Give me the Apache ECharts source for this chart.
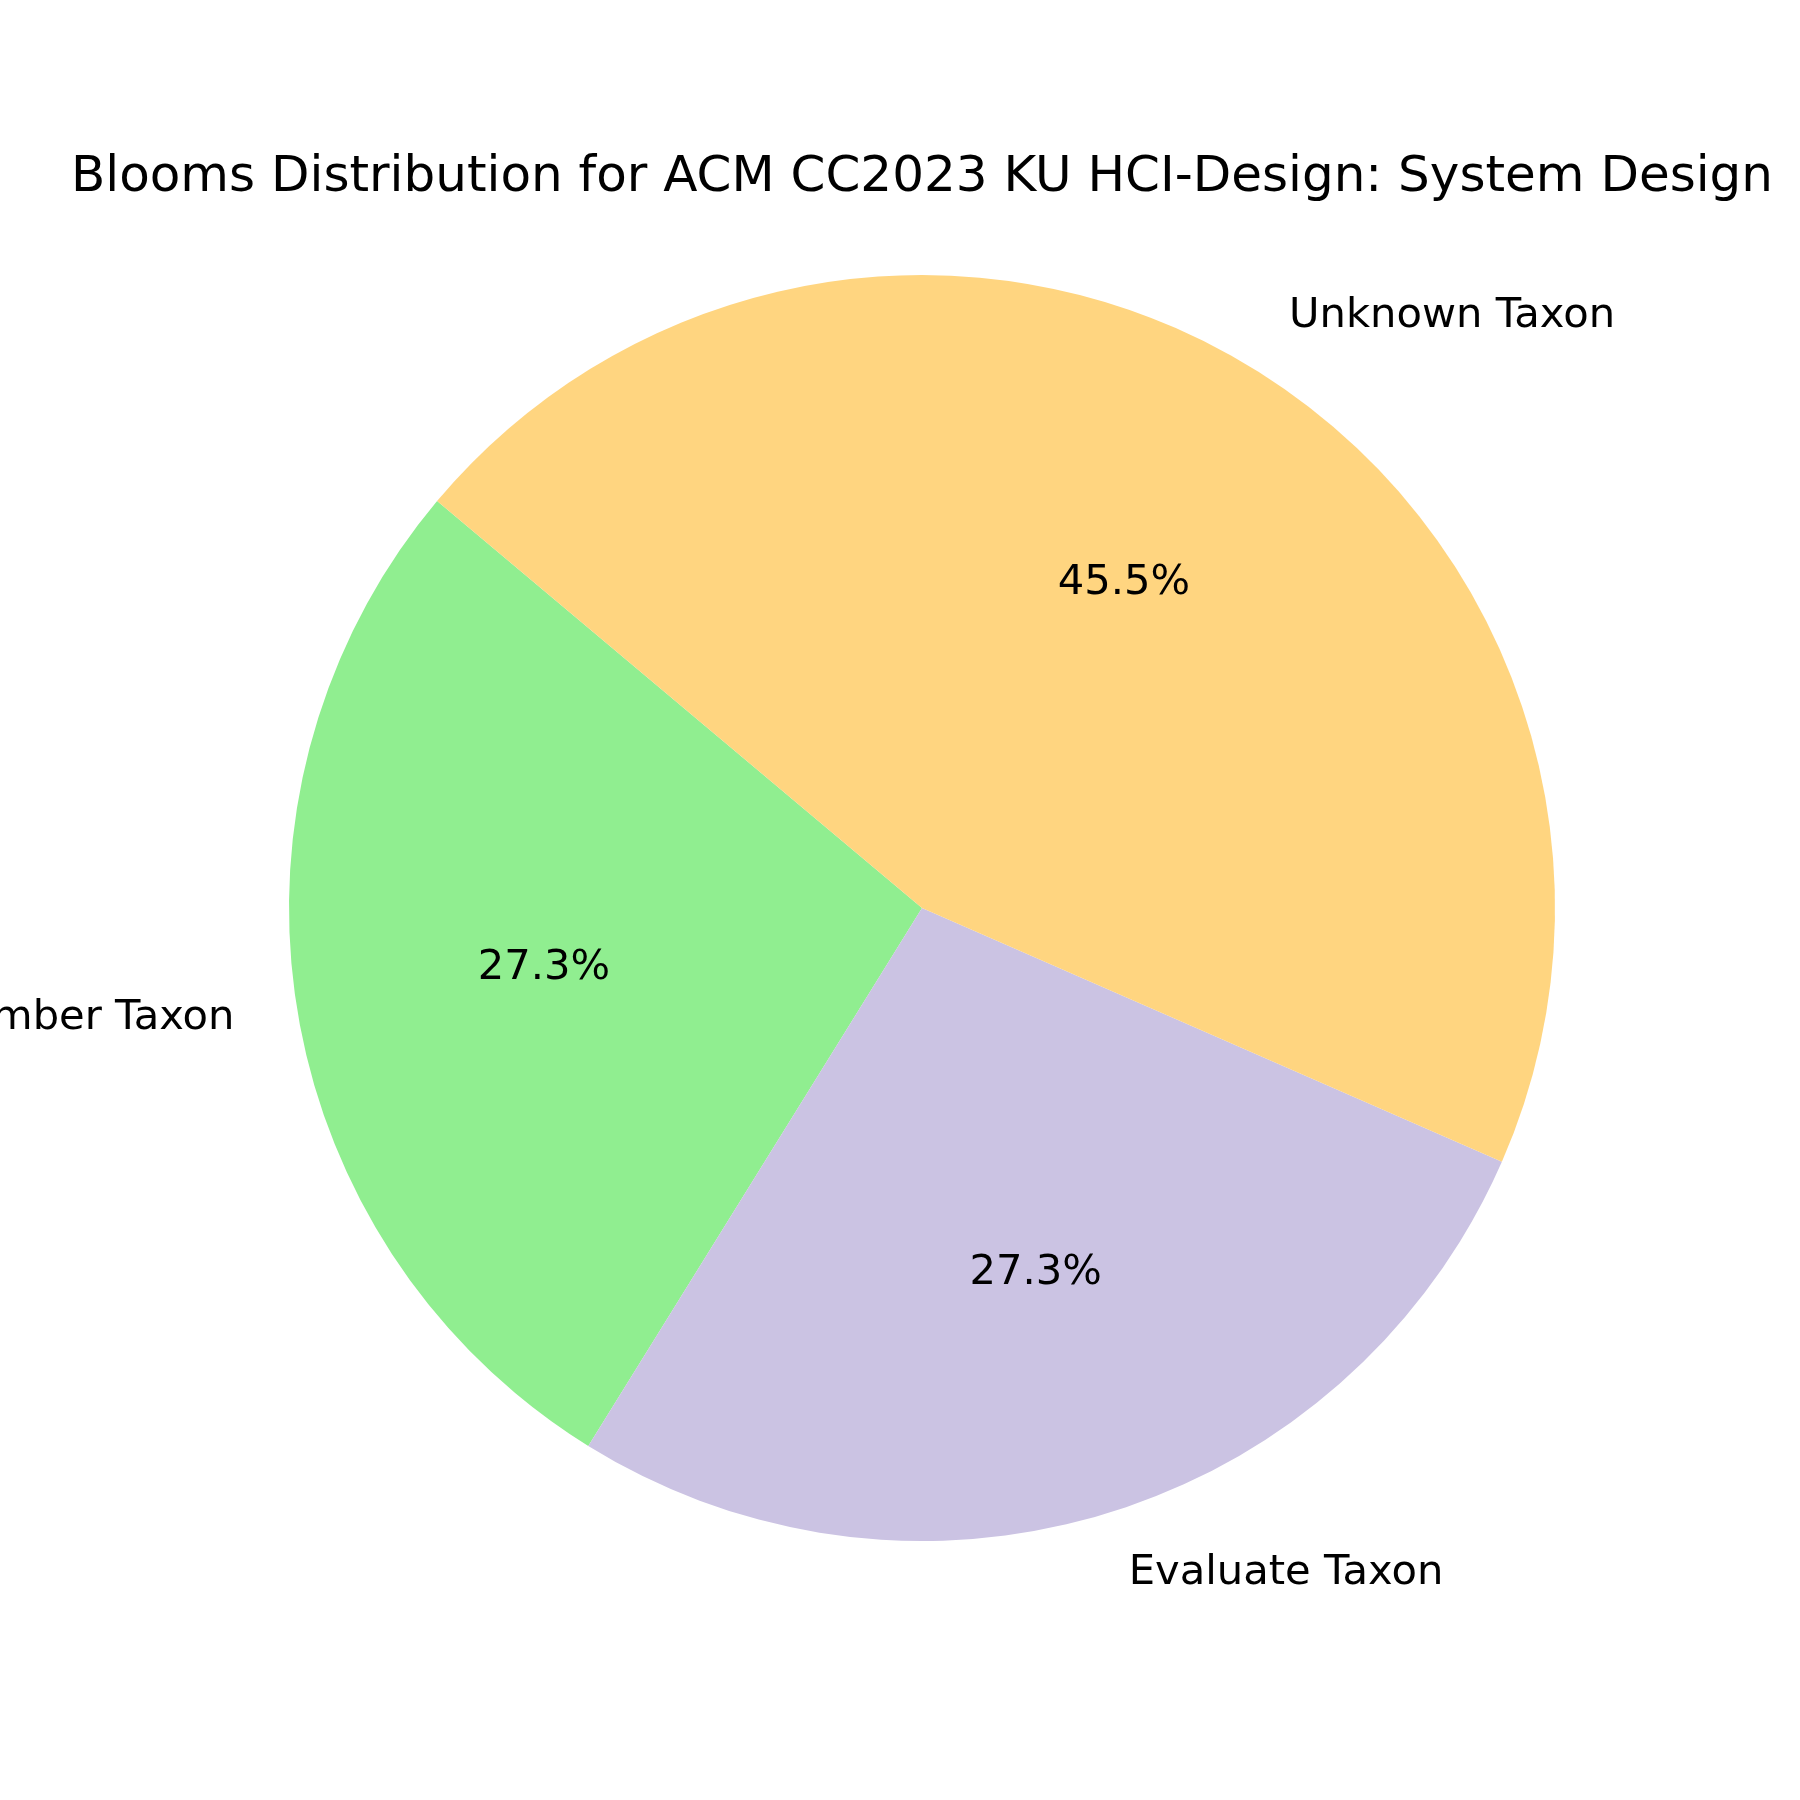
<!DOCTYPE html>
<html>
<head>
<meta charset="utf-8">
<script src="https://cdn.jsdelivr.net/npm/echarts@6/dist/echarts.min.js"></script>
<style>
  html, body { margin: 0; padding: 0; background: #fff; }
  #main { width: 1800px; height: 1800px; }
</style>
</head>
<body>
<div id="main"></div>
<script>
	// wedges in drawing order (counter-clockwise from 140 deg)
	var categories = [ 'Remember Taxon', 'Evaluate Taxon', 'Unknown Taxon' ];
	var counts = [ 3, 3, 5 ];
	var colors = [ '#90EE90', '#CBC3E3', '#FFD580' ];

	var total = counts.reduce(function(a, b) { return a + b; }, 0);
	var cx = 922, cy = 908, R = 633;
	var font = 'DejaVu Sans';

	var pieData = categories.map(function(name, i) {
		return { name : name, value : counts[i], itemStyle : { color : colors[i] } };
	});

	var option = {
		backgroundColor : '#ffffff',
		animation : false,
		title : {
			text : 'Blooms Distribution for ACM CC2023 KU HCI-Design: System Design',
			left : cx - 5,
			textAlign : 'center',
			top : 148,
			textStyle : {
				fontFamily : font,
				fontSize : 50,
				fontWeight : 'normal',
				color : '#000',
				lineHeight : 50
			}
		},
		series : [ {
			// wedges + outer category labels
			type : 'pie',
			center : [ cx, cy ],
			radius : [ 0, R ],
			startAngle : 140,
			clockwise : false,
			avoidLabelOverlap : false,
			silent : true,
			data : pieData,
			itemStyle : { borderWidth : 0 },
			label : {
				show : true,
				position : 'outside',
				distanceToLabelLine : 0,
				formatter : '{b}',
				fontFamily : font,
				fontSize : 41.67,
				color : '#000'
			},
			labelLine : {
				show : false,
				length : 0.1 * R,
				length2 : 0
			}
		}, {
			// transparent copy just to put the percentages at 0.6 R
			type : 'pie',
			center : [ cx, cy ],
			radius : [ 0, 1.2 * R ],
			startAngle : 140,
			clockwise : false,
			silent : true,
			data : categories.map(function(name, i) {
				return { name : name, value : counts[i] };
			}),
			itemStyle : { color : 'rgba(0,0,0,0)', borderWidth : 0 },
			label : {
				show : true,
				position : 'inside',
				formatter : function(p) {
					return (p.value / total * 100).toFixed(1) + '%';
				},
				fontFamily : font,
				fontSize : 41.67,
				color : '#000'
			},
			labelLine : { show : false }
		} ]
	};

	var chart = echarts.init(document.getElementById('main'), null, { renderer : 'canvas' });
	chart.setOption(option, true);
</script>
</body>
</html>
